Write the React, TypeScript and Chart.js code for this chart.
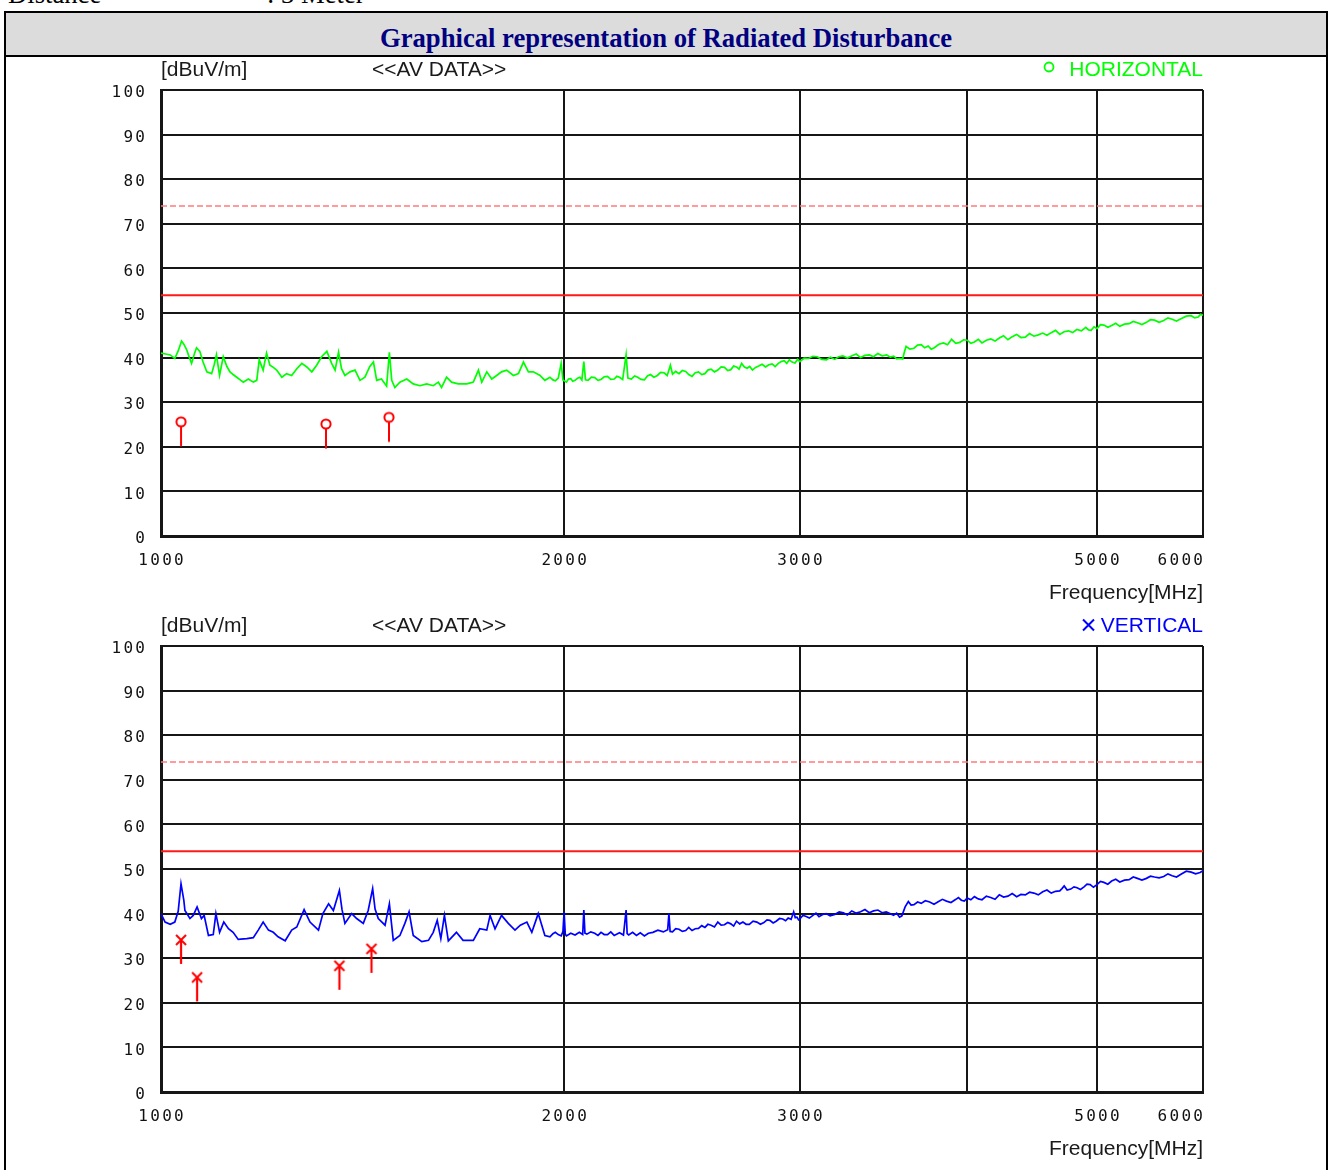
import React, { useEffect, useRef } from "react";
import { Chart, registerables } from "chart.js";

Chart.register(...registerables);

// ---------- axis / tick data ----------
const xGridFreqs = [1000, 2000, 3000, 4000, 5000, 6000];
const xTickLabels = ["1000", "2000", "3000", "", "5000", "6000"];
const yGridValues = [0, 10, 20, 30, 40, 50, 60, 70, 80, 90, 100];
const yTickLabels = ["0", "10", "20", "30", "40", "50", "60", "70", "80", "90", "100"];

// ---------- limit lines ----------
const limitFreqs = [1000, 6000];
const avLimit = [54, 54];
const peakLimit = [74, 74];

// ---------- horizontal polarization trace [MHz, dBuV/m] ----------
const horizontalTrace: [number, number][] = [
  [1000, 41.0], [1008, 40.8], [1016, 40.6], [1024, 39.8], [1030, 41.5], [1036, 43.7], [1040, 43.0], [1045, 41.8],
  [1050, 40.0], [1054, 38.7], [1059, 40.8], [1063, 42.2], [1069, 41.4], [1075, 39.0], [1082, 36.8], [1091, 36.4],
  [1096, 38.5], [1100, 40.6], [1106, 36.0], [1113, 40.2], [1120, 38.0], [1126, 36.8], [1132, 36.2], [1139, 35.6],
  [1146, 35.0], [1152, 34.5], [1162, 35.2], [1172, 34.5], [1179, 34.9], [1184, 39.5], [1192, 37.2], [1199, 41.0],
  [1206, 38.3], [1213, 37.8], [1220, 37.2], [1231, 35.6], [1241, 36.4], [1252, 36.0], [1263, 37.5], [1274, 38.7],
  [1285, 37.9], [1296, 36.8], [1307, 38.3], [1318, 40.2], [1330, 41.4], [1341, 38.7], [1349, 37.2], [1357, 41.2],
  [1364, 37.5], [1372, 36.0], [1384, 36.8], [1396, 37.2], [1408, 34.9], [1420, 35.6], [1432, 38.0], [1441, 39.0],
  [1449, 34.9], [1461, 35.2], [1474, 33.6], [1481, 41.2], [1487, 34.9], [1495, 33.3], [1508, 34.5], [1526, 35.2],
  [1543, 34.1], [1561, 33.7], [1579, 34.1], [1597, 33.7], [1611, 34.5], [1620, 33.3], [1634, 35.6], [1648, 34.5],
  [1667, 34.1], [1692, 34.1], [1711, 34.5], [1726, 37.2], [1736, 34.5], [1751, 36.8], [1766, 35.2], [1781, 36.0],
  [1796, 36.8], [1812, 37.2], [1833, 36.0], [1849, 36.4], [1865, 39.0], [1881, 36.8], [1897, 36.8], [1919, 36.0],
  [1935, 34.9], [1952, 35.6], [1962, 35.0], [1970, 34.8], [1980, 35.4], [1990, 38.7], [1996, 35.0], [2008, 34.5],
  [2015, 35.2], [2023, 35.3], [2030, 34.7], [2038, 34.9], [2047, 35.4], [2055, 35.6], [2062, 35.0], [2069, 39.1],
  [2075, 35.0], [2084, 34.9], [2096, 35.6], [2108, 35.5], [2120, 34.9], [2131, 35.1], [2143, 35.7], [2155, 35.8],
  [2167, 35.1], [2180, 35.2], [2190, 35.8], [2200, 35.6], [2212, 35.1], [2225, 40.6], [2232, 35.4], [2245, 35.2],
  [2258, 35.9], [2270, 35.6], [2283, 35.1], [2296, 35.0], [2308, 35.9], [2320, 36.2], [2334, 35.6], [2348, 36.0],
  [2361, 36.7], [2375, 36.6], [2388, 36.0], [2401, 38.3], [2410, 36.3], [2423, 36.9], [2437, 36.4], [2451, 37.1],
  [2465, 36.9], [2478, 36.2], [2492, 35.8], [2506, 36.6], [2520, 36.8], [2534, 36.2], [2548, 36.4], [2561, 37.2],
  [2575, 37.4], [2590, 36.8], [2605, 37.2], [2620, 37.9], [2635, 37.8], [2650, 37.1], [2664, 37.3], [2677, 38.1],
  [2690, 37.9], [2702, 37.4], [2714, 38.7], [2727, 37.9], [2740, 37.6], [2752, 38.0], [2765, 37.2], [2780, 37.8],
  [2795, 38.1], [2811, 38.5], [2828, 37.9], [2844, 38.4], [2860, 38.6], [2875, 38.0], [2891, 38.7], [2905, 39.1],
  [2920, 39.3], [2933, 38.7], [2946, 39.5], [2960, 39.0], [2975, 38.8], [2988, 39.6], [3000, 39.1], [3022, 39.9],
  [3045, 39.8], [3068, 40.3], [3091, 40.2], [3115, 39.6], [3140, 39.5], [3162, 40.1], [3185, 39.6], [3207, 40.2],
  [3230, 40.4], [3255, 39.9], [3281, 40.4], [3305, 40.8], [3330, 40.0], [3355, 40.5], [3381, 40.6], [3405, 40.2],
  [3430, 40.9], [3456, 40.4], [3483, 40.6], [3505, 40.1], [3525, 40.3], [3543, 39.7], [3561, 39.8], [3580, 39.7],
  [3590, 41.2], [3601, 42.5], [3625, 41.9], [3650, 42.1], [3673, 42.8], [3696, 42.9], [3718, 42.2], [3740, 42.6],
  [3760, 41.9], [3780, 42.2], [3810, 43.0], [3840, 43.3], [3867, 42.9], [3894, 44.1], [3922, 43.2], [3950, 43.4],
  [3975, 44.0], [4000, 43.9], [4025, 43.2], [4050, 43.5], [4077, 44.1], [4103, 43.3], [4134, 43.9], [4165, 44.2],
  [4196, 43.7], [4227, 44.4], [4258, 44.9], [4290, 44.0], [4322, 44.7], [4355, 45.2], [4387, 44.5], [4420, 44.6],
  [4453, 45.4], [4486, 44.8], [4520, 45.1], [4555, 45.5], [4588, 45.0], [4622, 45.6], [4656, 46.1], [4690, 45.2],
  [4725, 45.8], [4761, 46.0], [4795, 45.6], [4830, 46.3], [4868, 46.0], [4905, 46.8], [4928, 46.2], [4950, 46.1],
  [4975, 46.9], [5000, 46.5], [5030, 47.4], [5060, 47.3], [5094, 46.8], [5128, 47.2], [5164, 47.7], [5200, 47.0],
  [5242, 47.5], [5284, 47.6], [5322, 48.1], [5360, 47.8], [5402, 47.4], [5444, 47.9], [5482, 48.5], [5520, 48.4],
  [5564, 47.9], [5608, 48.3], [5649, 48.9], [5690, 48.6], [5733, 48.2], [5777, 48.7], [5830, 49.3], [5880, 49.4],
  [5915, 48.9], [5950, 49.1], [5975, 49.7], [6000, 49.5],
];

// ---------- vertical polarization trace [MHz, dBuV/m] ----------
const verticalTrace: [number, number][] = [
  [1000, 40.0], [1007, 38.1], [1016, 37.6], [1024, 38.1], [1030, 40.5], [1035, 46.7], [1040, 43.0], [1042, 40.7],
  [1051, 38.9], [1057, 39.6], [1064, 41.5], [1072, 38.9], [1077, 39.6], [1085, 35.1], [1094, 35.3], [1099, 40.0],
  [1106, 35.8], [1114, 38.1], [1123, 36.6], [1132, 35.8], [1142, 34.2], [1159, 34.4], [1172, 34.6], [1182, 36.3],
  [1192, 38.1], [1203, 36.3], [1213, 35.8], [1223, 34.8], [1238, 33.9], [1252, 36.3], [1263, 37.0], [1279, 40.9],
  [1292, 38.1], [1311, 36.3], [1321, 40.0], [1334, 42.2], [1345, 40.7], [1359, 45.2], [1365, 41.0], [1372, 37.8],
  [1388, 40.0], [1400, 38.9], [1416, 37.8], [1428, 40.7], [1439, 45.6], [1445, 41.0], [1453, 38.9], [1470, 37.4],
  [1481, 42.2], [1491, 34.0], [1508, 35.1], [1521, 37.8], [1532, 40.4], [1543, 35.1], [1566, 33.7], [1584, 34.0],
  [1597, 35.8], [1608, 38.5], [1618, 34.4], [1628, 39.6], [1639, 33.9], [1662, 35.8], [1681, 34.0], [1711, 34.0],
  [1730, 36.6], [1751, 36.3], [1761, 39.6], [1776, 36.6], [1796, 39.6], [1817, 37.8], [1838, 36.3], [1855, 37.4],
  [1876, 38.1], [1892, 35.8], [1913, 40.0], [1935, 35.1], [1952, 34.8], [1962, 35.5], [1970, 35.8], [1980, 35.3],
  [1990, 35.0], [1996, 36.0], [2000, 40.4], [2004, 35.4], [2008, 35.0], [2023, 35.6], [2038, 35.2], [2053, 35.8],
  [2065, 35.3], [2069, 40.8], [2073, 35.6], [2080, 35.4], [2094, 35.9], [2108, 35.6], [2120, 35.1], [2131, 35.8],
  [2143, 35.3], [2155, 35.3], [2167, 35.9], [2180, 35.1], [2200, 35.7], [2215, 35.2], [2225, 40.8], [2229, 35.5],
  [2235, 35.2], [2250, 35.8], [2265, 35.1], [2280, 35.7], [2296, 35.0], [2312, 35.6], [2330, 35.8], [2350, 36.3],
  [2372, 35.9], [2390, 36.4], [2395, 40.0], [2400, 36.0], [2410, 35.9], [2423, 36.6], [2437, 36.5], [2451, 36.0],
  [2465, 36.2], [2478, 36.9], [2492, 36.2], [2506, 36.6], [2520, 36.7], [2534, 37.3], [2548, 36.9], [2561, 37.6],
  [2575, 37.4], [2590, 37.0], [2605, 38.1], [2620, 37.4], [2635, 37.5], [2650, 38.0], [2664, 37.7], [2677, 37.2],
  [2690, 38.3], [2705, 37.7], [2720, 38.1], [2735, 37.6], [2750, 37.6], [2768, 38.3], [2786, 38.1], [2803, 37.6],
  [2820, 38.0], [2835, 38.6], [2849, 38.5], [2865, 37.9], [2880, 38.3], [2897, 38.9], [2913, 38.8], [2927, 38.4],
  [2940, 39.0], [2955, 38.7], [2968, 40.4], [2976, 39.1], [2985, 39.2], [2993, 38.6], [3000, 38.8], [3015, 39.6],
  [3030, 39.4], [3049, 39.0], [3068, 39.6], [3084, 40.1], [3100, 39.3], [3120, 39.8], [3138, 40.0], [3160, 39.5],
  [3185, 39.8], [3210, 40.4], [3233, 40.2], [3255, 39.7], [3280, 40.6], [3305, 40.1], [3330, 40.4], [3355, 40.9],
  [3380, 40.2], [3405, 40.6], [3431, 40.8], [3455, 40.2], [3480, 40.4], [3502, 40.0], [3524, 39.6], [3543, 40.1],
  [3561, 39.2], [3575, 39.5], [3595, 41.5], [3615, 42.7], [3632, 41.9], [3650, 42.0], [3673, 42.6], [3696, 42.3],
  [3722, 42.9], [3750, 42.6], [3778, 42.1], [3808, 42.7], [3833, 43.2], [3860, 42.8], [3890, 42.5], [3923, 43.2],
  [3940, 43.6], [3960, 43.0], [3980, 42.8], [4000, 43.5], [4025, 43.1], [4050, 43.8], [4077, 43.3], [4103, 43.1],
  [4134, 43.9], [4165, 43.6], [4196, 43.2], [4227, 44.2], [4258, 43.7], [4290, 43.9], [4322, 44.5], [4355, 43.8],
  [4387, 44.3], [4420, 44.2], [4453, 44.8], [4486, 44.6], [4520, 44.2], [4555, 44.9], [4588, 45.3], [4622, 44.6],
  [4656, 45.0], [4690, 45.1], [4708, 45.6], [4726, 46.2], [4750, 45.3], [4780, 45.5], [4806, 46.0], [4832, 45.8],
  [4860, 45.4], [4890, 46.0], [4915, 46.6], [4942, 46.5], [4970, 45.9], [5000, 46.5], [5030, 47.2], [5060, 47.0],
  [5094, 46.6], [5128, 47.3], [5164, 47.7], [5200, 47.1], [5242, 47.5], [5284, 47.6], [5322, 48.2], [5360, 47.9],
  [5402, 47.5], [5444, 47.9], [5482, 48.4], [5520, 48.2], [5564, 48.0], [5608, 48.3], [5649, 48.9], [5690, 48.5],
  [5733, 48.2], [5777, 48.8], [5830, 49.5], [5880, 49.3], [5925, 48.9], [5970, 49.2], [6000, 49.6],
];

// ---------- marked emission points ----------
const horizontalMarkFreqs = [1035, 1328, 1480];
const horizontalMarkLevels = [25.6, 25.1, 26.6];
const verticalMarkFreqs = [1035, 1064, 1359, 1436];
const verticalMarkLevels = [34.1, 25.7, 28.3, 32.1];

function makeMarker(kind: "circle" | "cross"): HTMLCanvasElement {
  const c = document.createElement("canvas");
  c.width = 18;
  c.height = 64;
  const g = c.getContext("2d")!;
  g.strokeStyle = "#ff0000";
  g.lineCap = "butt";
  if (kind === "circle") {
    g.lineWidth = 2;
    g.beginPath();
    g.arc(9, 32, 4.6, 0, Math.PI * 2);
    g.stroke();
    g.lineWidth = 2;
    g.beginPath();
    g.moveTo(9, 36.8);
    g.lineTo(9, 56.5);
    g.stroke();
  } else {
    g.lineWidth = 2;
    g.beginPath();
    g.moveTo(4, 27);
    g.lineTo(14, 37);
    g.moveTo(14, 27);
    g.lineTo(4, 37);
    g.stroke();
    g.lineWidth = 2.2;
    g.beginPath();
    g.moveTo(9, 32);
    g.lineTo(9, 56);
    g.stroke();
  }
  return c;
}

type PanelProps = {
  top: number;
  trace: [number, number][];
  color: string;
  markFreqs: number[];
  markLevels: number[];
  markerKind: "circle" | "cross";
  polarization: string;
};

function Panel({ top, trace, color, markFreqs, markLevels, markerKind, polarization }: PanelProps) {
  const ref = useRef<HTMLCanvasElement>(null);
  useEffect(() => {
    const canvas = ref.current!;
    const marker = makeMarker(markerKind);
    const decor = {
      id: "decor",
      afterDraw(chart: any) {
        const { ctx, chartArea: a, scales } = chart;
        const xs = scales.x;
        const ys = scales.y;
        ctx.save();
        // tick labels
        ctx.fillStyle = "#111";
        ctx.font = '16px "DejaVu Sans Mono", monospace';
        (ctx as any).letterSpacing = "2.3px";
        ctx.textBaseline = "middle";
        ctx.textAlign = "right";
        yGridValues.forEach((v, i) => {
          ctx.fillText(yTickLabels[i], a.left - 16 + 2.3, ys.getPixelForValue(v) + 3);
        });
        xGridFreqs.forEach((f, i) => {
          const lbl = xTickLabels[i];
          if (!lbl) return;
          const px = xs.getPixelForValue(f);
          const last = i === xGridFreqs.length - 1;
          ctx.textAlign = last ? "right" : "center";
          ctx.fillText(lbl, last ? px + 2.3 : px + 1.15, a.bottom + 25);
        });
        (ctx as any).letterSpacing = "0px";
        // captions
        ctx.font = '21px "Liberation Sans", Arial, sans-serif';
        ctx.fillStyle = "#1a1a1a";
        ctx.textAlign = "left";
        ctx.fillText("[dBuV/m]", a.left, a.top - 20);
        ctx.fillText("<<AV DATA>>", a.left + 211, a.top - 20);
        ctx.textAlign = "right";
        ctx.fillText("Frequency[MHz]", a.right, a.bottom + 57);
        // polarization legend
        ctx.fillStyle = color;
        ctx.fillText(polarization, a.right, a.top - 20);
        ctx.strokeStyle = color;
        if (markerKind === "circle") {
          ctx.lineWidth = 1.8;
          ctx.beginPath();
          ctx.arc(a.right - 154, a.top - 23, 4.5, 0, Math.PI * 2);
          ctx.stroke();
        } else {
          const cx = a.right - 114.5;
          const cy = a.top - 21;
          ctx.lineWidth = 2;
          ctx.beginPath();
          ctx.moveTo(cx - 5.5, cy - 5.5);
          ctx.lineTo(cx + 5.5, cy + 5.5);
          ctx.moveTo(cx + 5.5, cy - 5.5);
          ctx.lineTo(cx - 5.5, cy + 5.5);
          ctx.stroke();
        }
        ctx.restore();
      },
    };

    const gridColor = "#161616";
    const chart = new Chart(canvas, {
      type: "line",
      data: {
        datasets: [
          {
            data: limitFreqs.map((f, i) => ({ x: f, y: peakLimit[i] })),
            borderColor: "#ff7b7b",
            borderWidth: 1.5,
            borderDash: [6, 3],
            pointRadius: 0,
          },
          {
            data: limitFreqs.map((f, i) => ({ x: f, y: avLimit[i] })),
            borderColor: "#ff1a1a",
            borderWidth: 2,
            pointRadius: 0,
          },
          {
            data: trace.map(([f, v]) => ({ x: f, y: v })),
            borderColor: color,
            borderWidth: 1.7,
            pointRadius: 0,
            tension: 0,
          },
          {
            data: markFreqs.map((f, i) => ({ x: f, y: markLevels[i] })),
            showLine: false,
            pointStyle: marker as any,
            pointRadius: 8,
          },
        ],
      },
      options: {
        animation: false,
        responsive: false,
        maintainAspectRatio: false,
        layout: { padding: { top: 40, right: 17, left: 0, bottom: 0 } },
        plugins: { legend: { display: false }, tooltip: { enabled: false } },
        scales: {
          x: {
            type: "logarithmic",
            min: 1000,
            max: 6000,
            afterBuildTicks: (s: any) => {
              s.ticks = xGridFreqs.map((v) => ({ value: v }));
            },
            afterFit: (s: any) => {
              s.height = 70;
            },
            ticks: { display: false },
            grid: { color: gridColor, lineWidth: 2, drawTicks: false },
            border: { color: gridColor, width: 3 },
          },
          y: {
            type: "linear",
            min: 0,
            max: 100,
            afterBuildTicks: (s: any) => {
              s.ticks = yGridValues.map((v) => ({ value: v }));
            },
            afterFit: (s: any) => {
              s.width = 61;
            },
            ticks: { display: false },
            grid: { color: gridColor, lineWidth: 2, drawTicks: false },
            border: { color: gridColor, width: 3 },
          },
        },
      } as any,
      plugins: [decor],
    });
    return () => chart.destroy();
  }, []);
  return (
    <canvas
      ref={ref}
      width={1120}
      height={556}
      style={{ position: "absolute", left: 100, top, width: 1120, height: 556 }}
    />
  );
}

export default function App() {
  return (
    <div
      style={{
        position: "absolute",
        left: 0,
        top: 0,
        width: 1332,
        height: 1170,
        overflow: "hidden",
        background: "#fff",
      }}
    >
      <div
        style={{
          position: "absolute",
          left: 8,
          top: -21,
          font: '26.67px "Liberation Serif", "Times New Roman", serif',
          lineHeight: "30px",
          color: "#000",
          whiteSpace: "nowrap",
        }}
      >
        Distance
      </div>
      <div
        style={{
          position: "absolute",
          left: 267,
          top: -21,
          font: '26.67px "Liberation Serif", "Times New Roman", serif',
          lineHeight: "30px",
          color: "#000",
          whiteSpace: "nowrap",
        }}
      >
        : 3 Meter
      </div>
      <div
        style={{
          position: "absolute",
          left: 4,
          top: 11,
          width: 1324,
          height: 1200,
          boxSizing: "border-box",
          border: "2px solid #000",
        }}
      />
      <div
        style={{
          position: "absolute",
          left: 6,
          top: 13,
          width: 1320,
          height: 42,
          background: "#dcdcdc",
          borderBottom: "2px solid #000",
        }}
      />
      <div
        style={{
          position: "absolute",
          left: 6,
          top: 23,
          width: 1320,
          textAlign: "center",
          font: 'bold 26.67px "Liberation Serif", "Times New Roman", serif',
          lineHeight: "30px",
          color: "#000080",
          whiteSpace: "nowrap",
        }}
      >
        Graphical representation of Radiated Disturbance
      </div>
      <Panel
        top={50}
        trace={horizontalTrace}
        color="#00ff00"
        markFreqs={horizontalMarkFreqs}
        markLevels={horizontalMarkLevels}
        markerKind="circle"
        polarization="HORIZONTAL"
      />
      <Panel
        top={606}
        trace={verticalTrace}
        color="#0000ff"
        markFreqs={verticalMarkFreqs}
        markLevels={verticalMarkLevels}
        markerKind="cross"
        polarization="VERTICAL"
      />
    </div>
  );
}
